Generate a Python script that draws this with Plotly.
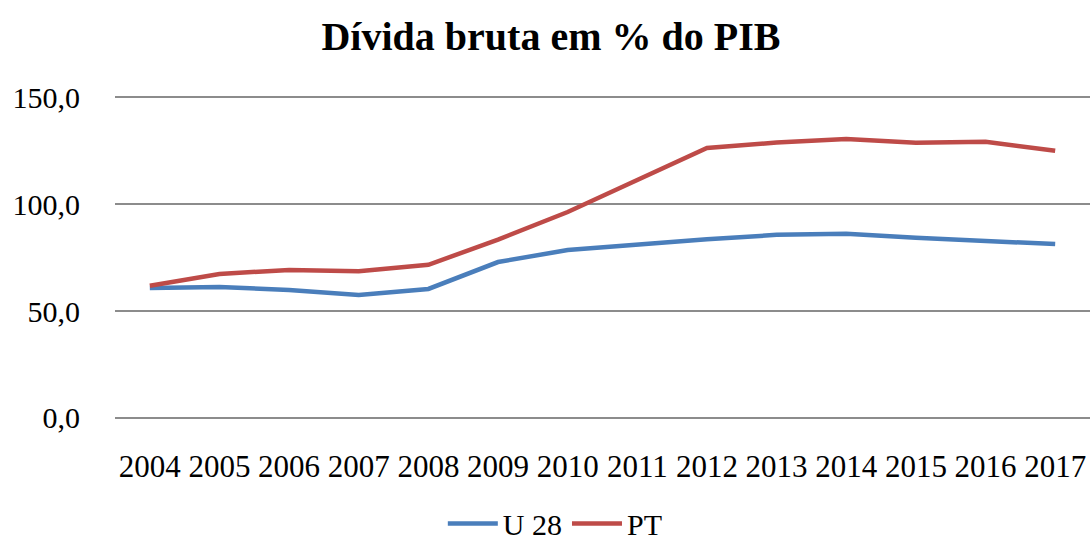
import plotly.graph_objects as go

years = [str(y) for y in range(2004, 2018)]
eu28 = [60.7, 61.2, 59.8, 57.5, 60.3, 72.9, 78.5, 81.2, 83.6, 85.6, 86.1, 84.2, 82.8, 81.3]
pt = [61.8, 67.3, 69.2, 68.6, 71.6, 83.4, 96.3, 111.3, 126.2, 128.8, 130.4, 128.7, 129.1, 124.9]
series_names = ["U 28", "PT"]
yticks = [0, 50, 100, 150]
ytick_text = ["0,0", "50,0", "100,0", "150,0"]

FONT = "Liberation Serif"
GRID = "#8c8c8c"

fig = go.Figure()
fig.add_trace(go.Scatter(x=years, y=eu28, mode="lines", name=series_names[0],
                         line=dict(color="#4A7EBB", width=4.5)))
fig.add_trace(go.Scatter(x=years, y=pt, mode="lines", name=series_names[1],
                         line=dict(color="#BE4B48", width=4.5)))

fig.update_layout(
    width=1091, height=542,
    margin=dict(l=115, r=1, t=95, b=123),
    paper_bgcolor="white", plot_bgcolor="white",
    font=dict(family=FONT, color="black", size=30),
    title=dict(text="<b>Dívida bruta em % do PIB</b>", x=0.505, xanchor="center",
               y=0.934, yanchor="middle", yref="container",
               font=dict(family=FONT, size=40, color="black")),
    showlegend=True,
    legend=dict(orientation="h", x=0.509, xanchor="center", xref="container",
                y=0.034, yanchor="middle", yref="container",
                font=dict(family=FONT, size=30), itemwidth=50,
                tracegroupgap=0),
    xaxis=dict(type="category", range=[-0.5, 13.5], showgrid=False,
               showline=False, ticks="", tickfont=dict(size=31),
               ticklabelstandoff=26, fixedrange=True),
    yaxis=dict(range=[-0.5, 151], tickvals=yticks, ticktext=ytick_text,
               showgrid=True, gridcolor=GRID, gridwidth=1.6,
               zeroline=True, zerolinecolor=GRID, zerolinewidth=1.6,
               showline=False, ticks="", ticklabelstandoff=34,
               tickfont=dict(size=30), fixedrange=True),
)

fig.write_html("out.html", config={"displayModeBar": False},
               post_script="document.body.style.margin='0';document.body.style.padding='0';")
